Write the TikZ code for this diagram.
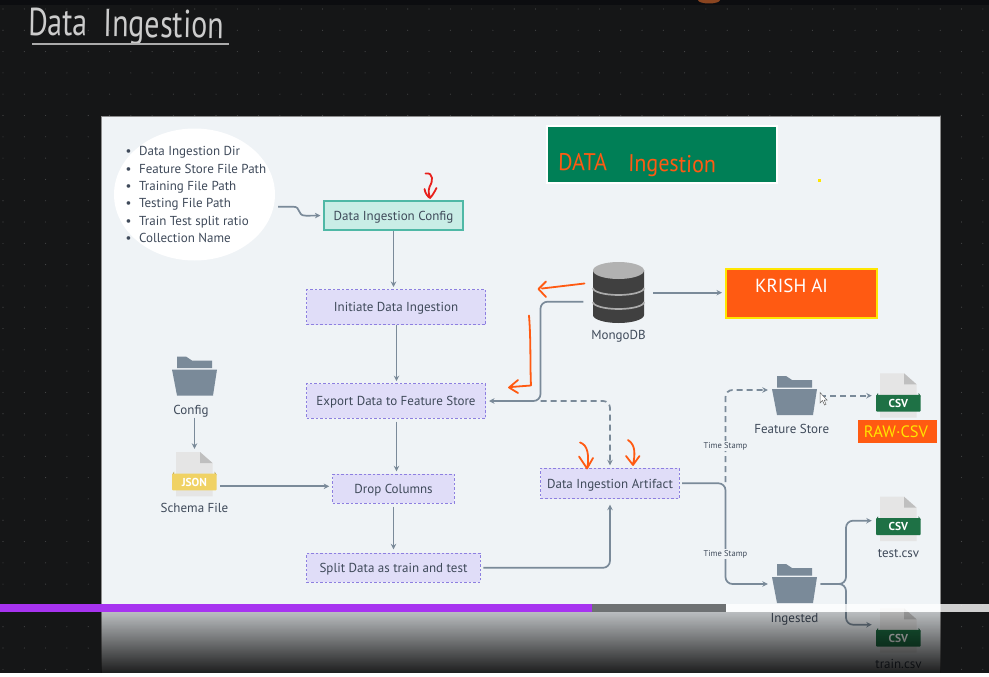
\documentclass[tikz,border=0pt]{standalone}
\usepackage{fontspec}
\usetikzlibrary{arrows.meta,shapes.geometric}
\setmainfont{PT Sans}
\definecolor{bgdark}{HTML}{151617}
\definecolor{topbar}{HTML}{0C0D10}
\definecolor{panelbg}{HTML}{EFF3F6}
\definecolor{linec}{HTML}{7A8A99}
\definecolor{txt}{HTML}{3F4A5A}
\definecolor{lav}{HTML}{E0DDF8}
\definecolor{lavd}{HTML}{8D7FE0}
\definecolor{tealf}{HTML}{C9EDE6}
\definecolor{teald}{HTML}{4FB8A6}
\definecolor{hand}{HTML}{FF5A12}
\definecolor{redh}{HTML}{E8201C}
\definecolor{csvg}{HTML}{1E7145}
\definecolor{jsony}{HTML}{F0D264}
\definecolor{bannerg}{HTML}{007F56}
\definecolor{yel}{HTML}{FFE600}
\definecolor{barp}{HTML}{A733F0}
\definecolor{barg}{HTML}{6E7173}
\definecolor{hump}{HTML}{8A4520}
\tikzset{
  x=1pt,y=-1pt,
  conn/.style={draw=linec,line width=1.7pt,rounded corners=7pt,-{Stealth[length=5.5pt,width=5.5pt]}},
  conndash/.style={conn,dash pattern=on 6pt off 4pt},
  procbox/.style={draw=lavd,fill=lav,dash pattern=on 2.5pt off 2pt,line width=.8pt,inner sep=0pt,outer sep=0pt,text=txt,font=\fontsize{13}{15}\selectfont,text height=9pt,text depth=0pt,anchor=north west},
  lbl/.style={text=txt,font=\fontsize{13}{15}\selectfont,text height=9pt,text depth=0pt,inner sep=0pt},
  tslbl/.style={fill=panelbg,text=txt,font=\fontsize{8.5}{10}\selectfont,inner sep=1pt},
  handline/.style={line width=1.8pt,line cap=round,line join=round},
}
\newcommand{\folderic}[2]{%
 \begin{scope}[shift={(#1,#2)}]
  \fill[linec] (5,-13) -- (14,-13) -- (20,-9) -- (40,-9) -- (40,-1.5) -- (5,-1.5) -- cycle;
  \fill[linec] (0,0) -- (45,0) -- (41,26) -- (5,26) -- cycle;
 \end{scope}}
\newcommand{\docic}[4]{% x y colour label
 \begin{scope}[shift={(#1,#2)}]
  \fill[black!10] (4,0) -- (28,0) -- (40.5,11) -- (40.5,44.4) -- (4,44.4) -- cycle;
  \fill[black!25] (28,0) -- (40.5,11) -- (28,11) -- cycle;
  \fill[#3!75!black] (0,23) -- (2,19.7) -- (2,23) -- cycle (44.7,23) -- (42.7,19.7) -- (42.7,23) -- cycle;
  \fill[#3,rounded corners=1pt] (0,21.5) rectangle (44.7,38.4);
  \node[text=white,inner sep=0pt,font=\bfseries\fontsize{11.5}{13}\selectfont] at (22.4,30) {#4};
 \end{scope}}
\begin{document}
\begin{tikzpicture}
\useasboundingbox (0,0) rectangle (989,677);
\clip (0,0) rectangle (989,677);
\fill[bgdark] (0,0) rectangle (989,677);
\fill[topbar] (0,0) rectangle (989,5);
\foreach \i in {0,...,46} \foreach \j in {0,...,31}
  \fill[white!22!bgdark] ({3+\i*21.3},{9+\j*21.3}) circle (.55pt);
\fill[panelbg] (101.5,116.5) rectangle (940,677);
\draw[black!45,line width=.6pt] (101.5,677) -- (101.5,116.5) -- (940,116.5) -- (940,677);
\fill[hump] (698,0) arc (180:0:11 and 3.5) -- cycle;

% connectors' nodes
\node[ellipse,fill=white,minimum width=161pt,minimum height=132pt,inner sep=0pt] (params) at (194.5,194.5) {};
\node[anchor=north west,inner sep=0pt,text=txt,align=left,font=\fontsize{13}{17.35}\selectfont] (paramtext) at (125.5,146.5) {%
 \textbullet\hspace{7.5pt}Data Ingestion Dir\\
 \textbullet\hspace{7.5pt}Feature Store File Path\\
 \textbullet\hspace{7.5pt}Training File Path\\
 \textbullet\hspace{7.5pt}Testing File Path\\
 \textbullet\hspace{7.5pt}Train Test split ratio\\
 \textbullet\hspace{7.5pt}Collection Name};
\node[draw=teald,fill=tealf,line width=1.1pt,inner sep=0pt,text=txt,font=\fontsize{13}{15}\selectfont,text height=9pt,text depth=0pt,minimum width=139pt,minimum height=29pt] (cfg) at (393.5,215.5) {Data Ingestion Config};
\node[procbox,minimum width=179pt,minimum height=35pt] (init) at (306.5,289.5) {Initiate Data Ingestion};
\node[procbox,minimum width=179pt,minimum height=34.5pt] (export) at (306.5,383.7) {Export Data to Feature Store};
\node[procbox,minimum width=121.6pt,minimum height=29pt] (drop) at (332.7,474.3) {Drop Columns};
\node[procbox,minimum width=173.6pt,minimum height=29pt] (split) at (306.7,553.3) {Split Data as train and test};
\node[procbox,minimum width=138.6pt,minimum height=30.4pt] (artifact) at (540.7,468.3) {Data Ingestion Artifact};

% green banner
\node[draw=white,fill=bannerg,line width=2pt,minimum width=230.5pt,minimum height=56.5pt,inner sep=0pt,anchor=north west] (banner) at (545.5,125) {};
\node[text=hand,inner sep=0pt,anchor=base west,font=\fontsize{22}{26}\selectfont,rotate=-1] (bannertxt) at (558,170) {\scalebox{1}[1.1]{DATA\hspace{21pt}Ingestion}};

% Krish box
\node[draw=yel,fill=hand,line width=2pt,minimum width=151pt,minimum height=49pt,inner sep=0pt,anchor=north west] (krish) at (725,268) {};
\node[text=white,inner sep=0pt,font=\fontsize{19}{22}\selectfont] (krishtxt) at (791.5,285.5) {KRISH AI};

% Raw csv box
\node[fill=hand,minimum width=79pt,minimum height=22.7pt,inner sep=0pt,outer sep=0pt,anchor=north west] (raw) at (858,420) {};
\node[text=yel,inner sep=0pt,font=\fontsize{16.5}{18}\selectfont] (rawtxt) at (896,432) {RAW·CSV};

% Mongo cylinder
\fill[black!75] (593,270) -- (593,315) arc (180:0:25.5 and 8) -- (644,270) -- cycle;
\fill[black!30] (618.5,270.5) ellipse (25.5 and 8.5);
\draw[black!33,line width=1.7pt] (593,288) arc (180:0:25.5 and 7);
\draw[black!33,line width=1.7pt] (593,302) arc (180:0:25.5 and 7);
\node[inner sep=0pt,minimum width=51pt,minimum height=61pt] (mongo) at (618.5,292.5) {};
\node[lbl] (mongolbl) at (618.5,334.5) {MongoDB};

% folders
\folderic{172}{369.5}
\node[inner sep=0pt,minimum width=45pt,minimum height=39pt] (fcfg) at (194.5,376.5) {};
\node[lbl] (fcfglbl) at (191,410) {Config};
\folderic{772}{389}
\node[inner sep=0pt,minimum width=45pt,minimum height=39pt] (ffs) at (794.5,396) {};
\node[lbl] (ffslbl) at (791.7,429) {Feature Store};
\folderic{772}{577}
\node[inner sep=0pt,minimum width=45pt,minimum height=39pt] (fing) at (794.5,584) {};
\node[lbl] (finglbl) at (794.5,618) {Ingested};

% documents
\docic{172}{452}{jsony}{JSON}
\node[inner sep=0pt,minimum width=45pt,minimum height=44pt] (json) at (194.5,474) {};
\node[lbl] (jsonlbl) at (194.5,507.5) {Schema File};
\docic{876}{373.3}{csvg}{CSV}
\node[inner sep=0pt,minimum width=45pt,minimum height=44pt] (csvraw) at (898.5,395.5) {};
\docic{876}{496.7}{csvg}{CSV}
\node[inner sep=0pt,minimum width=45pt,minimum height=44pt] (csvtest) at (898.5,519) {};
\node[lbl] (csvtestlbl) at (898.5,552.7) {test.csv};
\docic{876}{608.3}{csvg}{CSV}
\node[inner sep=0pt,minimum width=45pt,minimum height=44pt] (csvtrain) at (898.5,630.5) {};
\node[lbl] (csvtrainlbl) at (898.5,664) {train.csv};

% connectors
\coordinate (pout) at (278,206.7);
\draw[conn,rounded corners=0pt,shorten >=3pt] (pout) -- (293,206.7) .. controls (302,206.7) and (296,215.7) .. (306,215.7) -- (cfg.west);
\draw[conn,shorten >=2.5pt] (cfg.south) -- (cfg.south |- init.north);
\coordinate (xa) at (396.5,0);
\coordinate (xb) at (393.5,0);
\coordinate (xc) at (610,0);
\draw[conn,shorten >=2.5pt] (xa |- init.south) -- (xa |- export.north);
\draw[conn,shorten <=3.5pt,shorten >=3pt] (xa |- export.south) -- (xa |- drop.north);
\draw[conn,shorten <=3.5pt,shorten >=4pt] (xb |- drop.south) -- (xb |- split.north);
\draw[conn,shorten <=3pt,shorten >=3pt] (fcfg |- fcfglbl.south) -- (json.north);
\coordinate (ya) at (0,486.3);
\draw[conn,shorten <=3pt,shorten >=3.5pt] (json.east |- ya) -- (drop.west |- ya);
\draw[conn,shorten <=3pt,shorten >=6pt] (split.east) -| (xc |- artifact.south);
\coordinate (mleft) at (583.3,301.7);
\coordinate (jn) at (540.5,401);
\draw[conn,shorten >=3.5pt] (mleft) -| (jn) -- (export.east |- jn);
\draw[conndash,shorten >=3pt] (jn) -| (xc |- artifact.north);
\coordinate (yb) at (0,292.7);
\draw[conn,shorten <=9pt,shorten >=3pt] (mongo.east |- yb) -- (krish.west |- yb);
\coordinate (artout) at (682,483.3);
\coordinate (ys) at (725.5,584);
\draw[conn,shorten >=4pt] (artout) -| (ys) -- (fing.west |- ys);
\coordinate (yc) at (725.5,482);
\coordinate (yd) at (725.5,390);
\draw[conndash,shorten >=4pt] (yc) -- (yd) -- (ffs.west |- yd);
\coordinate (ye) at (0,395.7);
\draw[conndash,shorten <=3pt,shorten >=4pt] (ffs.east |- ye) -- (csvraw.west |- ye);
\coordinate (xs) at (846,0);
\coordinate (yt) at (0,520.7);
\coordinate (yu) at (0,624.7);
\draw[conn,shorten <=3.5pt,shorten >=4pt] (fing.east |- ys) -| (xs |- yt) -- (csvtest.west |- yt);
\draw[conn,shorten <=3.5pt,shorten >=4pt] (fing.east |- ys) -| (xs |- yu) -- (csvtrain.west |- yu);
\node[tslbl] (ts1) at (725.5,446) {Time Stamp};
\node[tslbl] (ts2) at (725.5,554) {Time Stamp};

% handwritten marks
\draw[redh,handline] (425.5,173.5) .. controls (434,172) and (433,182) .. (429.5,187) .. controls (428,191) and (429,195) .. (430,198) (436.5,188) .. controls (434,193) and (432,196) .. (430,198) .. controls (428,197) and (425,193) .. (424.5,189);
\draw[hand,handline] (584.5,283.5) -- (542,288.5) (546,281.5) -- (538.5,289) -- (546,297);
\draw[hand,handline] (529,315.5) .. controls (531,340) and (530,365) .. (531,385.5) -- (511,387) (518,380) -- (509,387.5) -- (518,393);
\draw[hand,handline] (580,442.5) .. controls (588,445) and (589,455) .. (587.5,468) (579,456.5) -- (587,468.5) -- (593,458);
\draw[hand,handline] (628,440) .. controls (636,445) and (635,455) .. (633,465) (626,456) -- (633,465) -- (639.5,456);

% cursor and dot
\draw[black!60,fill=white,line width=.5pt] (820,392.5) -- (820,403) -- (822.5,400.5) -- (824.5,405) -- (826,404.3) -- (824.2,400) -- (827,400) -- cycle;
\fill[yel] (817.8,178.5) rectangle (820.8,181.5);

% title
\node[text=black!20,inner sep=0pt,anchor=base west,font=\fontsize{30}{36}\selectfont,rotate=-1] (title) at (28,35) {\scalebox{1}[1.3]{Data\hspace{16pt}Ingestion}};
\draw[black!33,line width=1.7pt] (32,44) -- (229,44);

% overlay
\foreach \k in {0,...,60}
  \fill[black,fill opacity={0.22+\k*0.0108}] (101,{612+\k}) rectangle (941,{613+\k});
\fill[barp] (0,604) rectangle (591.5,612);
\fill[barg] (591.5,604) rectangle (726,612);
\fill[white,fill opacity=.8] (726,604) rectangle (989,612);
\fill[white] (0,673) rectangle (989,677);
\end{tikzpicture}
\end{document}
